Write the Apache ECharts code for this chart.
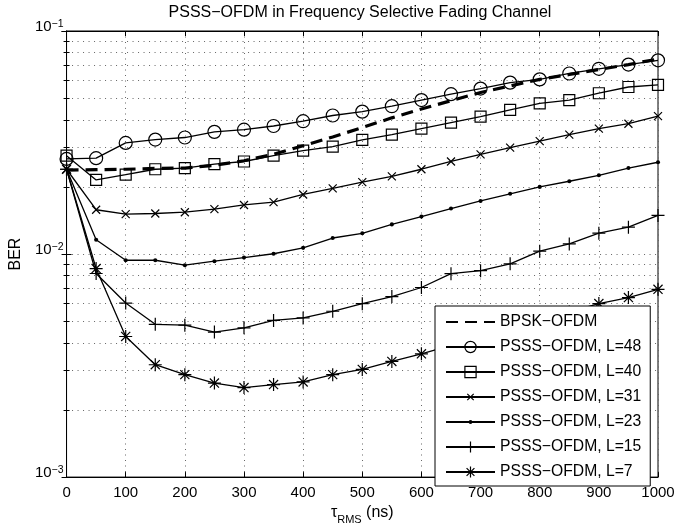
<!DOCTYPE html>
<html>
<head>
<meta charset="utf-8">
<script src="https://cdn.jsdelivr.net/npm/echarts@6/dist/echarts.min.js"></script>
<style>
  html, body { margin: 0; background: #fff; }
  #main { width: 682px; height: 530px; }
</style>
</head>
<body>
<div id="main"></div>
<script>
// x: tau_RMS (ns)
const tau = [0, 50, 100, 150, 200, 250, 300, 350, 400, 450, 500, 550, 600, 650, 700, 750, 800, 850, 900, 950, 1000];

// BER values
const bpsk = [0.0238, 0.0239, 0.0240, 0.0242, 0.0243, 0.0250, 0.0262, 0.0280, 0.0306, 0.0335, 0.0369, 0.0408, 0.0447, 0.0487, 0.0530, 0.0567, 0.0607, 0.0638, 0.0672, 0.0707, 0.0749];
const l48 = [0.0267, 0.0269, 0.0315, 0.0326, 0.0333, 0.0353, 0.0361, 0.0375, 0.0394, 0.0418, 0.0435, 0.0460, 0.0490, 0.0521, 0.0552, 0.0587, 0.0607, 0.0645, 0.0677, 0.0707, 0.0739];
const l40 = [0.0276, 0.0215, 0.0227, 0.0240, 0.0243, 0.0253, 0.0260, 0.0276, 0.0291, 0.0303, 0.0325, 0.0343, 0.0365, 0.0388, 0.0413, 0.0443, 0.0474, 0.0490, 0.0526, 0.0561, 0.0573];
const l31 = [0.0240, 0.0158, 0.0151, 0.0152, 0.0154, 0.0159, 0.0166, 0.0171, 0.0185, 0.0197, 0.0210, 0.0223, 0.0240, 0.0260, 0.0280, 0.0300, 0.0321, 0.0343, 0.0365, 0.0384, 0.0415];
const l23 = [0.0240, 0.0116, 0.00938, 0.00938, 0.00891, 0.00929, 0.00964, 0.01003, 0.01066, 0.0118, 0.01239, 0.01358, 0.01472, 0.0160, 0.0173, 0.01862, 0.0200, 0.0212, 0.02254, 0.0243, 0.0258];
const l15 = [0.0240, 0.00818, 0.00603, 0.00484, 0.00480, 0.00447, 0.00467, 0.00504, 0.00517, 0.00554, 0.00599, 0.00645, 0.00708, 0.00817, 0.00842, 0.00904, 0.0103, 0.0111, 0.0124, 0.0132, 0.0149];
const l7 = [0.0240, 0.00861, 0.00427, 0.00319, 0.00288, 0.00264, 0.00252, 0.00260, 0.00267, 0.00288, 0.00304, 0.00330, 0.00357, 0.0039, 0.0042, 0.0045, 0.0050, 0.0055, 0.0060, 0.00638, 0.00695];

const names = ['BPSK−OFDM', 'PSSS−OFDM, L=48', 'PSSS−OFDM, L=40', 'PSSS−OFDM, L=31', 'PSSS−OFDM, L=23', 'PSSS−OFDM, L=15', 'PSSS−OFDM, L=7'];

const FONT = '"Liberation Sans", Arial, Helvetica, sans-serif';

// marker shapes (matlab style); the extra M keeps some empty room round small marks
const SYM_X = 'path://M0,0M14,14M3,3L11,11M11,3L3,11';
const SYM_PLUS = 'path://M5,0L5,10M0,5L10,5';
const SYM_STAR = 'path://M5,0L5,10M0,5L10,5M1.5,1.5L8.5,8.5M8.5,1.5L1.5,8.5';
const SYM_DOT = 'path://M0,0M10,10M5,3.3A1.7,1.7,0,1,1,5,6.7A1.7,1.7,0,1,1,5,3.3Z';

const pairs = arr => tau.map((t, i) => [t, arr[i]]);

const hollow = { color: 'transparent', borderColor: '#000', borderWidth: 1.2 };

const mkSeries = (name, arr, symbol, size, itemStyle) => ({
    name: name,
    type: 'line',
    data: pairs(arr),
    symbol: symbol,
    symbolSize: size,
    showSymbol: true,
    animation: false,
    lineStyle: { color: '#000', width: 1.3 },
    itemStyle: itemStyle,
    emphasis: { disabled: true }
});

const dotted = { color: '#666', width: 1, type: [1, 4.5] };

const myChart = echarts.init(document.getElementById('main'));

const option = {
    backgroundColor: '#fff',
    animation: false,
    title: {
        text: 'PSSS−OFDM in Frequency Selective Fading Channel',
        left: 360,
        top: 5,
        padding: 0,
        textAlign: 'center',
        textStyle: { fontFamily: FONT, fontSize: 16, fontWeight: 'normal', color: '#000' }
    },
    grid: { left: 63, right: 24, top: 31, bottom: 47, show: true, borderColor: '#000', borderWidth: 1 },
    legend: {
        orient: 'vertical',
        left: 435,
        top: 306,
        padding: [8, 9, 6, 10],
        itemWidth: 49,
        itemHeight: 14,
        itemGap: 9,
        backgroundColor: '#fff',
        borderColor: '#000',
        borderWidth: 1,
        borderRadius: 0,
        textStyle: { fontFamily: FONT, fontSize: 15.7, color: '#000' },
        data: [
            { name: names[0], itemStyle: { color: 'transparent', borderWidth: 0 } },
            { name: names[1], itemStyle: hollow },
            { name: names[2], itemStyle: hollow },
            { name: names[3], itemStyle: hollow },
            { name: names[4], itemStyle: { color: '#000', borderWidth: 0 } },
            { name: names[5], itemStyle: hollow },
            { name: names[6], itemStyle: hollow }
        ]
    },
    xAxis: [
        {
            type: 'value', min: 0, max: 1000, interval: 100, position: 'bottom',
            axisLine: { lineStyle: { color: '#000', width: 1 } },
            axisTick: { inside: true, length: 5, lineStyle: { color: '#000' } },
            axisLabel: { color: '#000', fontSize: 15, fontFamily: FONT, margin: 8, formatter: v => String(v) },
            splitLine: { show: true, lineStyle: dotted },
            name: '{t|τ}{s|RMS}{n| (ns)}',
            nameLocation: 'middle',
            nameGap: 17,
            nameTextStyle: {
                color: '#000', fontFamily: FONT,
                rich: {
                    t: { fontSize: 16, fontFamily: FONT, lineHeight: 20, verticalAlign: 'top' },
                    s: { fontSize: 11, fontFamily: FONT, lineHeight: 11, verticalAlign: 'bottom' },
                    n: { fontSize: 16, fontFamily: FONT, lineHeight: 17, verticalAlign: 'top' }
                }
            }
        },
        {
            type: 'value', min: 0, max: 1000, interval: 100, position: 'top',
            axisLine: { lineStyle: { color: '#000', width: 1 } },
            axisTick: { inside: true, length: 5, lineStyle: { color: '#000' } },
            axisLabel: { show: false },
            splitLine: { show: false }
        }
    ],
    yAxis: [
        {
            type: 'log', logBase: 10, min: 0.001, max: 0.1, position: 'left',
            axisLine: { lineStyle: { color: '#000', width: 1 } },
            axisTick: { inside: true, length: 5, lineStyle: { color: '#000' } },
            minorTick: { show: true, splitNumber: 9, length: 3, lineStyle: { color: '#000' } },
            axisLabel: {
                color: '#000', margin: 3,
                formatter: v => '{a|10}{b|−' + Math.round(-Math.log10(v)) + '}',
                rich: {
                    a: { fontSize: 15, fontFamily: FONT, lineHeight: 24, verticalAlign: 'top' },
                    b: { fontSize: 10.5, fontFamily: FONT, lineHeight: 10, verticalAlign: 'top' }
                }
            },
            splitLine: { show: true, lineStyle: dotted },
            minorSplitLine: { show: true, lineStyle: dotted },
            name: 'BER',
            nameLocation: 'middle',
            nameGap: 41,
            nameTextStyle: { color: '#000', fontFamily: FONT, fontSize: 16 }
        },
        {
            type: 'log', logBase: 10, min: 0.001, max: 0.1, position: 'right',
            axisLine: { lineStyle: { color: '#000', width: 1 } },
            axisTick: { inside: true, length: 5, lineStyle: { color: '#000' } },
            minorTick: { show: true, splitNumber: 9, length: 3, lineStyle: { color: '#000' } },
            axisLabel: { show: false },
            splitLine: { show: false }
        }
    ],
    series: [
        {
            name: names[0],
            type: 'line',
            data: pairs(bpsk),
            symbol: 'none',
            animation: false,
            lineStyle: { color: '#000', width: 3.2, type: [12, 7] },
            itemStyle: { color: '#000' },
            emphasis: { disabled: true }
        },
        mkSeries(names[1], l48, 'circle', 13, hollow),
        mkSeries(names[2], l40, 'rect', 11, hollow),
        mkSeries(names[3], l31, SYM_X, 14, hollow),
        mkSeries(names[4], l23, SYM_DOT, 12, { color: '#000', borderWidth: 0 }),
        mkSeries(names[5], l15, SYM_PLUS, 13, hollow),
        mkSeries(names[6], l7, SYM_STAR, 13, hollow)
    ]
};

myChart.setOption(option);
</script>
</body>
</html>
